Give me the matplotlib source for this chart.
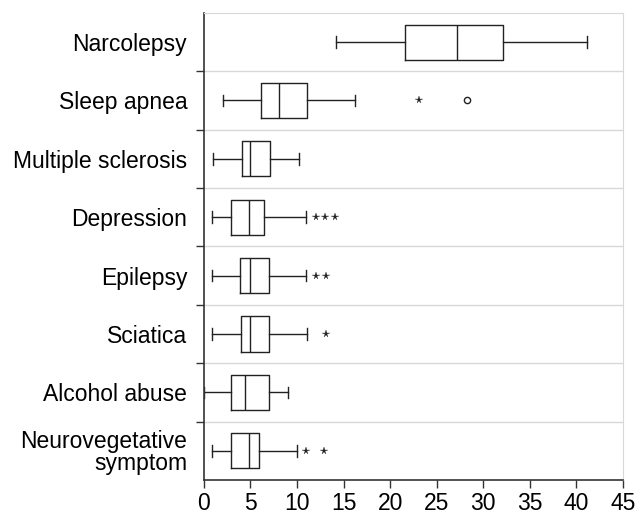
import matplotlib
matplotlib.use("Agg")
import matplotlib.pyplot as plt
import numpy as np

plt.rcParams['font.family'] = ['Liberation Sans', 'DejaVu Sans']

categories = ["Narcolepsy", "Sleep apnea", "Multiple sclerosis", "Depression",
              "Epilepsy", "Sciatica", "Alcohol abuse", "Neurovegetative\nsymptom"]
whislo = [14.2, 2.1, 1.0, 0.9, 0.9, 0.9, 0.0, 0.9]
q1     = [21.6, 6.1, 4.1, 2.9, 3.9, 4.0, 2.9, 2.9]
med    = [27.2, 8.1, 5.0, 4.9, 5.0, 5.0, 4.4, 4.9]
q3     = [32.1, 11.1, 7.1, 6.5, 7.0, 7.0, 7.0, 5.9]
whishi = [41.1, 16.2, 10.2, 11.0, 11.0, 11.1, 9.0, 10.0]
star_outliers = [[], [23.1], [], [12.0, 13.0, 14.1], [12.0, 13.1], [13.1], [], [11.0, 12.9]]
circle_outliers = [[], [28.2], [], [], [], [], [], []]

fig = plt.figure(figsize=(6.37, 5.15), dpi=100)
ax = fig.add_axes([0.320, 0.068, 0.658, 0.907])

n = len(categories)
positions = np.arange(n)[::-1] + 0.5  # top row first
stats = []
for i in range(n):
    stats.append(dict(whislo=whislo[i], q1=q1[i], med=med[i], q3=q3[i],
                      whishi=whishi[i], fliers=[], label=categories[i]))

lw = 1.0
ax.bxp(stats, positions=positions, vert=False, widths=0.6, showfliers=False,
       patch_artist=False,
       boxprops=dict(color='#222222', linewidth=lw),
       medianprops=dict(color='#222222', linewidth=lw),
       whiskerprops=dict(color='#222222', linewidth=lw),
       capprops=dict(color='#222222', linewidth=lw), capwidths=0.2)

for i in range(n):
    if star_outliers[i]:
        ax.plot(star_outliers[i], [positions[i]] * len(star_outliers[i]), linestyle='none',
                marker='*', markersize=5.5, color='#222222', markeredgewidth=0.2)
    if circle_outliers[i]:
        ax.plot(circle_outliers[i], [positions[i]] * len(circle_outliers[i]), linestyle='none',
                marker='o', markersize=4.5, markerfacecolor='none', markeredgecolor='#222222',
                markeredgewidth=1.0)

ax.set_xlim(0, 45)
ax.set_ylim(0, n)
ax.set_xticks(np.arange(0, 46, 5))
ax.set_yticks(positions)
ax.set_yticklabels(categories, fontsize=16.5, linespacing=0.95)
ax.set_yticks(np.arange(1, n), minor=True)
ax.tick_params(axis='y', which='major', length=0, pad=12)
ax.tick_params(axis='y', which='minor', length=6, width=1.0, direction='out', color='#333333')
ax.tick_params(axis='x', which='major', length=6, width=1.0, labelsize=16.5, color='#333333',
               pad=3)
for y in range(1, n):
    ax.axhline(y, color='#d8d8d8', linewidth=1.0, zorder=0)
ax.spines['left'].set_color('#333333')
ax.spines['bottom'].set_color('#333333')
ax.spines['left'].set_linewidth(1.2)
ax.spines['bottom'].set_linewidth(1.2)
ax.spines['top'].set_color('#d8d8d8')
ax.spines['right'].set_color('#d8d8d8')

fig.savefig("out.png", dpi=100)
